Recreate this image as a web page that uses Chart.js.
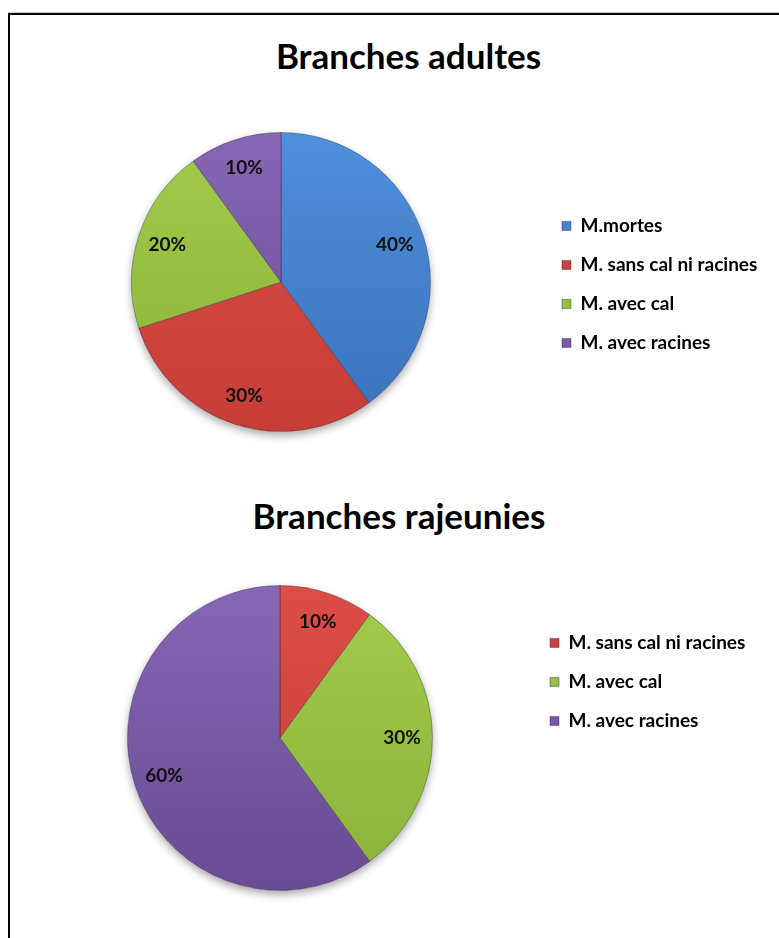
<!DOCTYPE html>
<html lang="fr">
<head>
<meta charset="utf-8">
<title>Branches adultes / rajeunies</title>
<script src="https://cdn.jsdelivr.net/npm/chart.js@4.4.1/dist/chart.umd.min.js"></script>
<style>
  html, body { margin: 0; padding: 0; background: #fff; overflow: hidden; }
  body { position: relative; width: 779px; height: 938px; }
  .cadre {
    position: absolute; left: 8px; top: 13px; width: 900px; height: 1000px;
    border-left: 2px solid #000; border-top: 2px solid #000;
    box-shadow: 0 -1px 0 #cfcfcf;
  }
  .titre {
    position: absolute; left: 0; margin: 0; text-align: center; color: #000;
    font: bold 35px/40px Lato, sans-serif;
  }
  #titre1 { top: 35px; width: 817px; }
  #titre2 { top: 495px; width: 798px; }
  .graph { position: absolute; left: 0; width: 779px; }
  #g1 { top: 120px; height: 330px; }
  #g2 { top: 560px; height: 378px; }
</style>
</head>
<body>
<div class="cadre"></div>
<h2 class="titre" id="titre1">Branches adultes</h2>
<h2 class="titre" id="titre2">Branches rajeunies</h2>
<div class="graph" id="g1"><canvas id="pie-adultes"></canvas></div>
<div class="graph" id="g2"><canvas id="pie-rajeunies"></canvas></div>

<script>
// --- données ---
const labels_adultes = ['M.mortes', 'M. sans cal ni racines', 'M. avec cal', 'M. avec racines'];
const values_adultes = [40, 30, 20, 10];

const labels_rajeunies = ['M. sans cal ni racines', 'M. avec cal', 'M. avec racines'];
const values_rajeunies = [10, 30, 60];

// couleurs : [haut, bas] pour le dégradé, plus une teinte unie pour la légende
const COULEURS = {
  'M.mortes':               {haut: '#4F90DD', bas: '#3A70BA', uni: '#4A82CB'},
  'M. sans cal ni racines': {haut: '#DC4D46', bas: '#C63D37', uni: '#C9443F'},
  'M. avec cal':            {haut: '#A3CC4C', bas: '#8AB239', uni: '#98BF47'},
  'M. avec racines':        {haut: '#8767B4', bas: '#694A93', uni: '#7A5AA6'}
};

const LEGEND_SIZE = 19;
const LEGEND_PAD = 20;
const BOX = 9;
const CANVAS_W = 779;

// padding droit pour que la légende commence à legendLeft
function paddingDroit(labels, legendLeft) {
  const ctx = document.createElement('canvas').getContext('2d');
  ctx.font = 'bold ' + LEGEND_SIZE + 'px Lato';
  const textW = Math.max(...labels.map(t => ctx.measureText(t).width));
  const legendW = LEGEND_PAD + BOX + LEGEND_SIZE / 2 + textW + 10;
  return CANVAS_W - legendLeft - legendW;
}

function degrade(labels) {
  return (c) => {
    const coul = COULEURS[labels[c.dataIndex]];
    const area = c.chart.chartArea;
    if (!area) return coul.uni;
    const g = c.chart.ctx.createLinearGradient(0, area.top, 0, area.bottom);
    g.addColorStop(0, coul.haut);
    g.addColorStop(1, coul.bas);
    return g;
  };
}

// ombre portée sous le camembert
const ombre = {
  id: 'ombre',
  beforeDatasetsDraw(chart) {
    const arc = chart.getDatasetMeta(0).data[0];
    if (!arc) return;
    const {x, y, outerRadius} = arc.getProps(['x', 'y', 'outerRadius'], true);
    const ctx = chart.ctx;
    ctx.save();
    ctx.shadowColor = 'rgba(0, 0, 0, 0.35)';
    ctx.shadowBlur = 8;
    ctx.shadowOffsetY = 4;
    ctx.beginPath();
    ctx.arc(x, y, outerRadius, 0, Math.PI * 2);
    ctx.fillStyle = '#fff';
    ctx.fill();
    ctx.restore();
  }
};

// pourcentages dans les parts
const etiquettes = {
  id: 'etiquettes',
  afterDatasetsDraw(chart) {
    const ctx = chart.ctx;
    const valeurs = chart.data.datasets[0].data;
    ctx.save();
    ctx.font = 'bold 19px Lato';
    ctx.fillStyle = '#111';
    ctx.textAlign = 'center';
    ctx.textBaseline = 'middle';
    chart.getDatasetMeta(0).data.forEach((arc, i) => {
      const p = arc.getProps(['x', 'y', 'startAngle', 'endAngle', 'outerRadius'], true);
      const mid = (p.startAngle + p.endAngle) / 2;
      const r = p.outerRadius * 0.8;
      ctx.fillText(valeurs[i] + '%', p.x + Math.cos(mid) * r, p.y + Math.sin(mid) * r);
    });
    ctx.restore();
  }
};

function camembert(canvasId, labels, values, opts) {
  const baseLabels = Chart.overrides.pie.plugins.legend.labels.generateLabels;
  return new Chart(document.getElementById(canvasId), {
    type: 'pie',
    data: {
      labels: labels,
      datasets: [{
        data: values,
        backgroundColor: degrade(labels),
        borderColor: 'rgba(30, 30, 50, 0.35)',
        borderWidth: 1
      }]
    },
    options: {
      responsive: true,
      maintainAspectRatio: false,
      animation: false,
      events: [],
      layout: { padding: opts.padding },
      plugins: {
        tooltip: { enabled: false },
        legend: {
          position: 'right',
          align: 'start',
          title: { display: true, text: '', padding: { top: opts.decalage, bottom: 0 } },
          labels: {
            boxWidth: BOX,
            boxHeight: BOX,
            padding: LEGEND_PAD,
            color: '#000',
            font: { family: 'Lato', size: LEGEND_SIZE, weight: 'bold' },
            generateLabels(chart) {
              return baseLabels(chart).map((item, i) => {
                item.fillStyle = COULEURS[labels[i]].uni;
                item.strokeStyle = 'rgba(30, 30, 50, 0.4)';
                item.lineWidth = 1;
                return item;
              });
            }
          }
        }
      }
    },
    plugins: [ombre, etiquettes]
  });
}

camembert('pie-adultes', labels_adultes, values_adultes, {
  padding: { top: 12, bottom: 18, left: 20, right: paddingDroit(labels_adultes, 542) },
  decalage: 50
});

camembert('pie-rajeunies', labels_rajeunies, values_rajeunies, {
  padding: { top: 25, bottom: 47, left: 30, right: paddingDroit(labels_rajeunies, 530) },
  decalage: 14
});
</script>
</body>
</html>
